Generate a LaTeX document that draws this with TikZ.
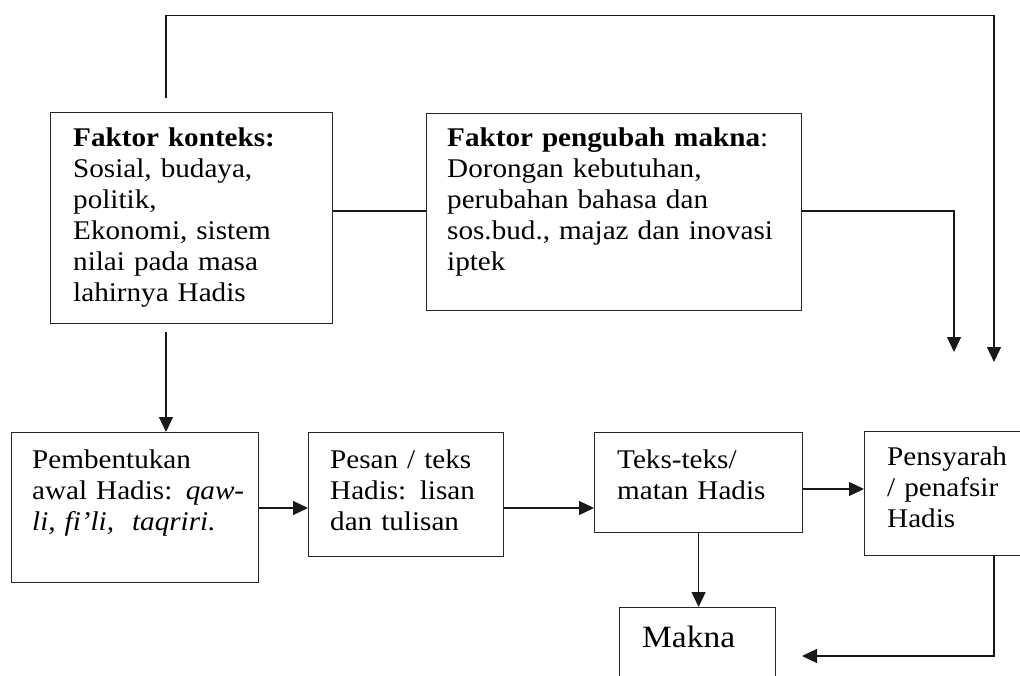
\documentclass[tikz,border=0pt]{standalone}
\usepackage{fontspec}
\setmainfont{Liberation Serif}[FakeStretch=1.08, WordSpace=0.85]
\usetikzlibrary{arrows.meta}
\tikzset{
  box/.style={draw=black!85, line width=1.2pt, inner sep=0pt, anchor=north west},
  txt/.style={inner sep=0pt, anchor=base west, align=left, text width=#1,
              font=\fontsize{27}{31}\selectfont},
  ln/.style={line width=1.3pt, draw=black!90},
  arr/.style={ln, -{Triangle[length=15pt,width=14pt]}}
}
\begin{document}
\begin{tikzpicture}[x=1pt,y=-1pt]
\useasboundingbox (0,0) rectangle (1020,676);
\clip (0,0) rectangle (1020,676);
% boxes
\node[box, minimum width=282pt, minimum height=211pt] (k) at (50,112) {};
\node[box, minimum width=375pt, minimum height=197pt] (m) at (426,113) {};
\node[box, minimum width=247pt, minimum height=150pt] (p) at (11,432) {};
\node[box, minimum width=195pt, minimum height=124pt] (q) at (308,432) {};
\node[box, minimum width=208pt, minimum height=100pt] (r) at (594,432) {};
\node[box, minimum width=200pt, minimum height=124pt] (s) at (864,431) {};
\node[box, minimum width=156pt, minimum height=100pt] (mk) at (619,607) {};
% texts
\node[txt=255pt] (kt) at (73,147) {\textbf{Faktor konteks:}\\Sosial, budaya,\\politik,\\Ekonomi, sistem\\nilai pada masa\\lahirnya Hadis};
\node[txt=350pt] (mt) at (447,147) {\textbf{Faktor pengubah makna}:\\Dorongan kebutuhan,\\perubahan bahasa dan\\sos.bud., majaz dan inovasi\\iptek};
\node[txt=225pt] (pt) at (32,468) {Pembentukan\\awal Hadis: \textit{qaw-}\\\textit{li, fi’li,\ \ taqriri.}};
\node[txt=170pt] (qt) at (330,468) {Pesan / teks\\Hadis: lisan\\dan tulisan};
\node[txt=180pt] (rt) at (617,468) {Teks-teks/\\matan Hadis};
\node[txt=150pt] (st) at (887,465) {Pensyarah\\/ penafsir\\Hadis};
\node[inner sep=0pt, anchor=base west, font=\fontsize{31}{36}\selectfont] (mkt) at (642,647) {Makna};
% connectors
\coordinate (kup) at (166,98);
\coordinate (tipA) at (994,362);
\draw[arr] (kup) -- ++(0,-82.5) -| (tipA);
\draw[ln] (k.east |- 0,211) -- (m.west |- 0,211);
\coordinate (tipB) at (954,352);
\draw[arr] (m.east |- 0,211) -| (tipB);
\coordinate (kdn) at (166,332);
\draw[arr] (kdn) -- (kdn |- p.north);
\draw[arr] (p.east |- 0,508) -- (q.west |- 0,508);
\draw[arr] (q.east |- 0,508) -- (r.west |- 0,508);
\draw[arr] (r.east |- 0,489) -- (s.west |- 0,489);
\draw[arr] (r.south) -- (r.south |- mk.north);
\coordinate (tipC) at (802,656);
\draw[arr] (s.south -| 994,0) |- (tipC);
\end{tikzpicture}
\end{document}
